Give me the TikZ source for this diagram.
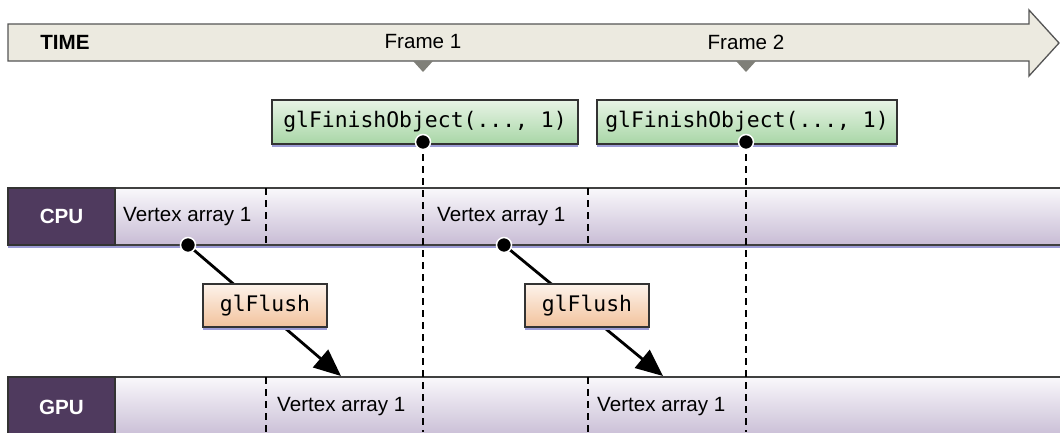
\documentclass[tikz,border=0pt]{standalone}
\usepackage{fontspec}
\setmainfont{Liberation Sans}
\newfontfamily\codefont{DejaVu Sans Mono}
\usetikzlibrary{arrows.meta,shadows}

\definecolor{timefill}{HTML}{ECEAE0}
\definecolor{timeedge}{HTML}{555555}
\definecolor{marker}{HTML}{7F7F78}
\definecolor{unitfill}{HTML}{4F3A5E}
\definecolor{bartop}{HTML}{F9F8FB}
\definecolor{barbottom}{HTML}{C8BCD5}
\definecolor{greentop}{HTML}{E8F4E6}
\definecolor{greenbottom}{HTML}{A8D6A6}
\definecolor{peachtop}{HTML}{FDF3EB}
\definecolor{peachbottom}{HTML}{F2C29C}
\definecolor{shade}{HTML}{9C9CD6}

\begin{document}
\begin{tikzpicture}[x=1pt,y=1pt]
\tikzstyle{every node}+=[inner sep=0pt]
\tikzstyle{lbl}=[font=\fontsize{20.6}{24}\selectfont]
\tikzstyle{unit}=[font=\fontsize{20.6}{24}\selectfont\bfseries, text=white, fill=unitfill, draw=black!80, line width=1.3pt, minimum width=107pt, minimum height=57pt]
\tikzstyle{lowshadow}=[drop shadow={shadow xshift=0pt, shadow yshift=-2.5pt, fill=shade, opacity=1}]
\tikzstyle{bar}=[draw=black!75, line width=1.3pt, top color=bartop, bottom color=barbottom]
\tikzstyle{call}=[font=\codefont\fontsize{21.4}{25}\selectfont, draw=black!80, line width=1.3pt, minimum height=44pt, lowshadow]
\tikzstyle{finish}=[call, top color=greentop, bottom color=greenbottom]
\tikzstyle{flush}=[call, top color=peachtop, bottom color=peachbottom, minimum width=124pt, minimum height=43pt]
\tikzstyle{sync}=[black, line width=2.4pt, dash pattern=on 7pt off 5pt]
\tikzstyle{dot}=[circle, fill=black, draw=white, line width=1.5pt, minimum size=15pt]
\tikzstyle{handoff}=[black, line width=2.8pt, -{Triangle[length=27pt,width=23pt]}]
\useasboundingbox (0,0) rectangle (1060,-432);

% time line
\draw [timeedge, fill=timefill, line width=1.3pt] (8,-24) -- (1029,-24) -- (1029,-10) -- (1059,-43) -- (1029,-76) -- (1029,-61) -- (8,-61) -- cycle;
\node [lbl, font=\fontsize{20.6}{24}\selectfont\bfseries] (time) at (65,-42.5) {TIME};
\node [lbl] (frame1) at (423,-42) {Frame 1};
\node [lbl] (frame2) at (746,-42) {Frame 2};
\fill [marker] (413,-61) -- (433,-61) -- (423,-72) -- cycle;
\fill [marker] (736,-61) -- (756,-61) -- (746,-72) -- cycle;

% lanes
\draw [bar, lowshadow] (8,-188) rectangle (1066,-245);
\draw [bar] (8,-377) rectangle (1066,-438);
\node [unit] (cpu) at (61.5,-216.5) {CPU};
\node [unit, minimum height=61pt] (gpu) at (61.5,-407.5) {GPU};

\node [lbl, anchor=west] (cpuva1) at (123,-217) {Vertex array 1};
\node [lbl, anchor=west] (cpuva2) at (437,-217) {Vertex array 1};
\node [lbl, anchor=west] (gpuva1) at (277,-407) {Vertex array 1};
\node [lbl, anchor=west] (gpuva2) at (597,-407) {Vertex array 1};

% sync points
\node [finish, minimum width=306pt] (fin1) at (425,-122) {glFinishObject(..., 1)};
\node [finish, minimum width=300pt] (fin2) at (747,-122) {glFinishObject(..., 1)};
\coordinate (fin1end) at (423,-432);
\coordinate (fin2end) at (746,-432);
\coordinate (fin1dot) at (423,-142);
\coordinate (fin2dot) at (746,-142);
\draw [sync] (fin1dot) -- (fin1end);
\draw [sync] (fin2dot) -- (fin2end);

\coordinate (cpucut1top) at (266,-188);
\coordinate (cpucut1bot) at (266,-245);
\coordinate (cpucut2top) at (588,-188);
\coordinate (cpucut2bot) at (588,-245);
\coordinate (gpucut1top) at (266,-377);
\coordinate (gpucut1bot) at (266,-432);
\coordinate (gpucut2top) at (588,-377);
\coordinate (gpucut2bot) at (588,-432);
\draw [sync] (cpucut1top) -- (cpucut1bot);
\draw [sync] (cpucut2top) -- (cpucut2bot);
\draw [sync] (gpucut1top) -- (gpucut1bot);
\draw [sync] (gpucut2top) -- (gpucut2bot);

% flushes
\coordinate (va1dot) at (188,-245);
\coordinate (va2dot) at (504,-245);
\coordinate (gpuin1) at (341,-376);
\coordinate (gpuin2) at (663,-376);
\draw [handoff] (va1dot) -- (gpuin1);
\draw [handoff] (va2dot) -- (gpuin2);
\node [flush] (flush1) at (265,-305.5) {glFlush};
\node [flush] (flush2) at (587,-305.5) {glFlush};

\node [dot] at (fin1dot) {};
\node [dot] at (fin2dot) {};
\node [dot] at (va1dot) {};
\node [dot] at (va2dot) {};
\end{tikzpicture}
\end{document}
